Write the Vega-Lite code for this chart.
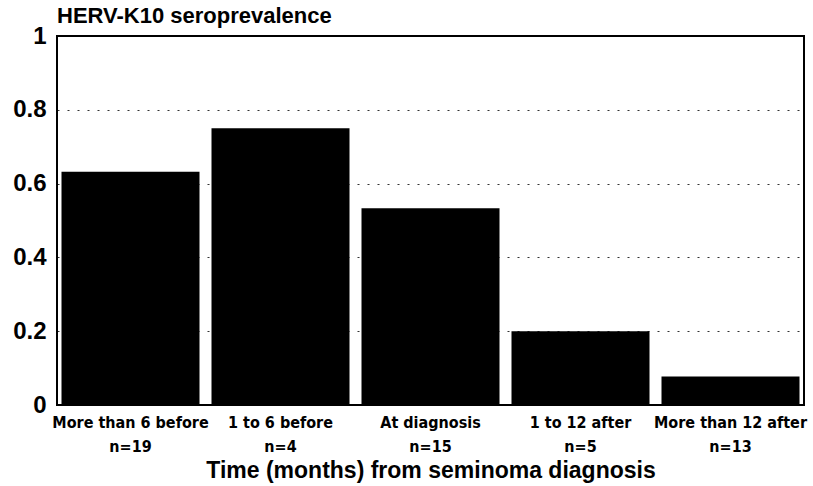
{
  "$schema": "https://vega.github.io/schema/vega-lite/v6.json",
  "width": 747,
  "height": 369,
  "autosize": "none",
  "padding": {"left": 57, "top": 36, "right": 9, "bottom": 81},
  "background": "white",
  "title": {
    "text": "HERV-K10 seroprevalence",
    "anchor": "start",
    "frame": "group",
    "font": "Liberation Sans",
    "fontSize": 22,
    "fontWeight": "bold",
    "color": "black",
    "offset": -4
  },
  "data": {
    "values": [
      {"group": "More than 6 before|n=19", "prev": 0.632},
      {"group": "1 to 6 before|n=4", "prev": 0.75},
      {"group": "At diagnosis|n=15", "prev": 0.533},
      {"group": "1 to 12 after|n=5", "prev": 0.2},
      {"group": "More than 12 after|n=13", "prev": 0.077}
    ]
  },
  "mark": {"type": "bar", "color": "black"},
  "encoding": {
    "x": {
      "field": "group",
      "type": "nominal",
      "sort": null,
      "scale": {"paddingInner": 0.08, "paddingOuter": 0.03},
      "axis": {
        "title": "Time (months) from seminoma diagnosis",
        "titleFont": "Liberation Sans",
        "titleFontSize": 23,
        "titleFontWeight": "bold",
        "titleColor": "black",
        "titlePadding": 5,
        "labelExpr": "split(datum.value, '|')",
        "labelAngle": 0,
        "labelFont": "DejaVu Sans Condensed",
        "labelFontSize": 16,
        "labelFontWeight": "bold",
        "labelColor": "black",
        "labelLineHeight": 24,
        "labelPadding": 9,
        "ticks": false,
        "domain": false
      }
    },
    "y": {
      "field": "prev",
      "type": "quantitative",
      "scale": {"domain": [0, 1]},
      "axis": {
        "title": null,
        "values": [0, 0.2, 0.4, 0.6, 0.8, 1],
        "format": ".1~f",
        "labelFont": "Liberation Sans",
        "labelFontSize": 24,
        "labelFontWeight": "bold",
        "labelColor": "black",
        "labelPadding": 11,
        "ticks": false,
        "domain": false,
        "grid": true,
        "gridColor": "black",
        "gridDash": [2, 8],
        "gridWidth": 1,
        "gridOpacity": 0.8
      }
    }
  },
  "config": {
    "view": {"stroke": "black", "strokeWidth": 2}
  }
}
